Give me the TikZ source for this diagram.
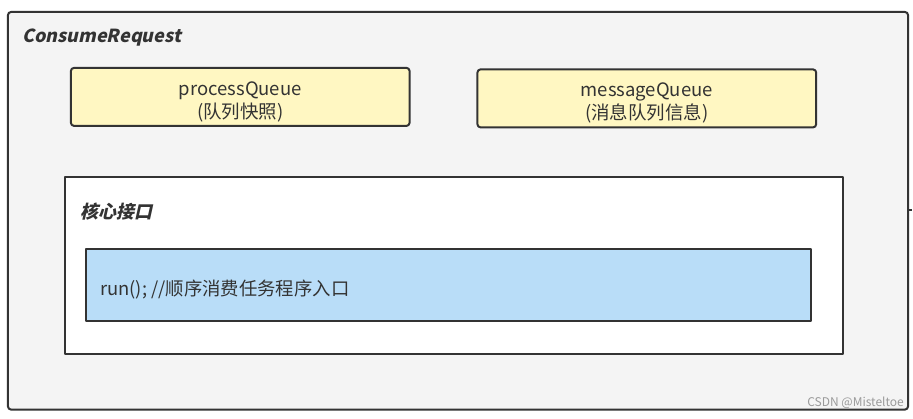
\documentclass[tikz,border=0pt]{standalone}
\usepackage{fontspec}
\setmainfont{Noto Sans CJK SC}
\newfontfamily\capfont{Noto Sans CJK SC}[UprightFont={*/B}, UprightFeatures={FakeSlant=0.22}]
\usetikzlibrary{positioning}

\definecolor{edge}{HTML}{333333}
\definecolor{panel}{HTML}{F4F4F4}
\definecolor{qyellow}{HTML}{FFF7C2}
\definecolor{rblue}{HTML}{B9DDF8}
\definecolor{mark}{HTML}{9A9A9A}

\tikzset{
  frame/.style={draw=edge, line width=2pt, rounded corners=3pt},
  qbox/.style={frame, fill=qyellow, minimum width=339pt, minimum height=58pt, inner sep=0pt},
  qtext/.style={align=center, inner sep=0pt, text=edge, font=\fontsize{18.5}{23}\selectfont},
  caption/.style={anchor=west, inner sep=0pt, text=edge,
    font=\fontsize{18}{20}\capfont},
}

\begin{document}
\begin{tikzpicture}[x=1pt, y=-1pt, line join=round]
  % ── 外框 ConsumeRequest ──
  \draw[frame, fill=panel] (8,12) rectangle (909,410);
  \draw[edge, line width=2pt] (909,210) -- (913,210);
  \node[caption] (title) at (22,38) {ConsumeRequest};

  % ── 两个队列（文字比框心略低）──
  \node[qbox] (pq) at (240.5,97) {};
  \node[qbox] (mq) at (647.5,98.5) {};
  \node[qtext] (pqt) at ([yshift=-5pt]pq.center) {processQueue\\(队列快照)};
  \node[qtext] (mqt) at ([yshift=-5pt]mq.center) {messageQueue\\(消息队列信息)};

  % ── 核心接口 ──
  \draw[frame, rounded corners=0pt, fill=white] (65,177) rectangle (844,354);
  \node[caption] (core) at (80,212) {核心接口};
  \draw[frame, rounded corners=0pt, fill=rblue] (86,249) rectangle (812,321);
  \node[anchor=west, inner sep=0pt, text=edge, font=\fontsize{18.4}{20}\selectfont]
    (run) at (100,290) {run(); //顺序消费任务程序入口};

  % ── 水印 ──
  \node[anchor=east, inner sep=0pt, text=mark, font=\fontsize{12}{13}\selectfont]
    (wm) at (905,403) {CSDN @Misteltoe};

  \path[use as bounding box] (0,0) rectangle (913,419);
\end{tikzpicture}
\end{document}
